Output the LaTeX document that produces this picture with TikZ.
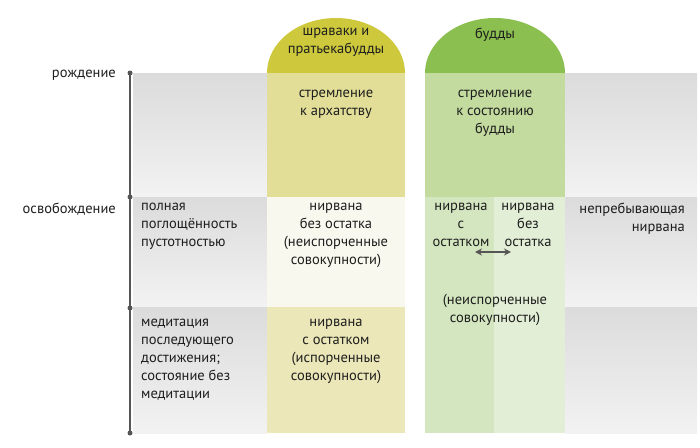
\documentclass[tikz,border=0pt]{standalone}
\usepackage{fontspec}
\setmainfont{PT Sans}
\usetikzlibrary{positioning,arrows.meta}
\definecolor{txt}{HTML}{1E1E1E}
\definecolor{axis}{HTML}{555555}
\definecolor{archY}{HTML}{CDC83C}
\definecolor{archG}{HTML}{8BBF50}
\definecolor{yA}{HTML}{E2DE97}
\definecolor{yB}{HTML}{F8F8EE}
\definecolor{yC}{HTML}{EBE7B8}
\definecolor{gA}{HTML}{C3DB9E}
\definecolor{gB}{HTML}{D4E6C0}
\definecolor{gC}{HTML}{E2EED5}
\tikzset{
  lbl/.style = {text = txt, font = \fontsize{14.5}{18}\selectfont, inner sep = 0pt, anchor = north},
  grey/.style = {top color = black!14, bottom color = black!5, draw = none},
  dot/.style = {circle, fill = axis, inner sep = 0pt, minimum size = 5pt}
}
\begin{document}
\begin{tikzpicture}[x = 1pt, y = -1pt]
  \useasboundingbox (0,0) rectangle (700,447);
  %%% Grey columns.
  \foreach \ya/\yb in {73/197, 197/307, 307/433} {
    \shade [grey] (133,\ya) rectangle (267,\yb);
    \shade [grey] (565,\ya) rectangle (697,\yb);
  }
  %%% Yellow column.
  \fill [archY] (267,73) arc [start angle = 180, end angle = 360, x radius = 69, y radius = 55] -- cycle;
  \fill [yA] (267,73) rectangle (405,197);
  \fill [yB] (267,197) rectangle (405,307);
  \fill [yC] (267,307) rectangle (405,433);
  %%% Green column.
  \fill [archG] (425,73) arc [start angle = 180, end angle = 360, x radius = 70, y radius = 55] -- cycle;
  \fill [gA] (425,73) rectangle (565,197);
  \fill [gB] (425,197) rectangle (494,433);
  \fill [gC] (494,197) rectangle (565,433);

  %%% Axis.
  \node [dot] (d1) at (130,73) {};
  \node [dot] (d2) at (130,197) {};
  \node [dot] (d3) at (130,308) {};
  \node [dot] (d4) at (130,433) {};
  \draw [axis, line width = 2pt] (d1.center) -- (d4.center);
  \node [lbl, anchor = north east] (birth) at (116,70) {рождение};
  \node [lbl, anchor = north east] (release) at (116,203) {освобождение};

  %%% Headers.
  \node [lbl, align = center] (sravaka) at (336,28) {шраваки и\\пратьекабудды};
  \node [lbl] (buddha) at (495,28) {будды};

  %%% Top row.
  \node [lbl, align = center] (arhat) at (336,90) {стремление\\к архатству};
  \node [lbl, align = center] (aspire) at (495,90) {стремление\\к состоянию\\будды};

  %%% Middle row.
  \node [lbl, anchor = north west, align = left] (absorb) at (141,203) {полная\\поглощённость\\пустотностью};
  \node [lbl, align = center] (nowithout) at (336,203) {нирвана\\без остатка\\(неиспорченные\\совокупности)};
  \node [lbl, align = center] (nwith) at (461,203) {нирвана\\с\\остатком};
  \node [lbl, align = center] (nwithout) at (528,203) {нирвана\\без\\остатка};
  \node [lbl, anchor = north east, align = right] (nonabide) at (685,203) {непребывающая\\нирвана};
  \coordinate (al) at (475,252);
  \coordinate (ar) at (511,252);
  \draw [axis, line width = 1.8pt, {Stealth[length = 7pt, width = 7pt]}-{Stealth[length = 7pt, width = 7pt]}] (al) -- (ar);
  \node [lbl, align = center] (pure) at (495,294) {(неиспорченные\\совокупности)};

  %%% Bottom row.
  \node [lbl, anchor = north west, align = left] (medit) at (141,319) {медитация\\последующего\\достижения;\\состояние без\\медитации};
  \node [lbl, align = center] (nrem) at (336,319) {нирвана\\с остатком\\(испорченные\\совокупности)};
\end{tikzpicture}
\end{document}
